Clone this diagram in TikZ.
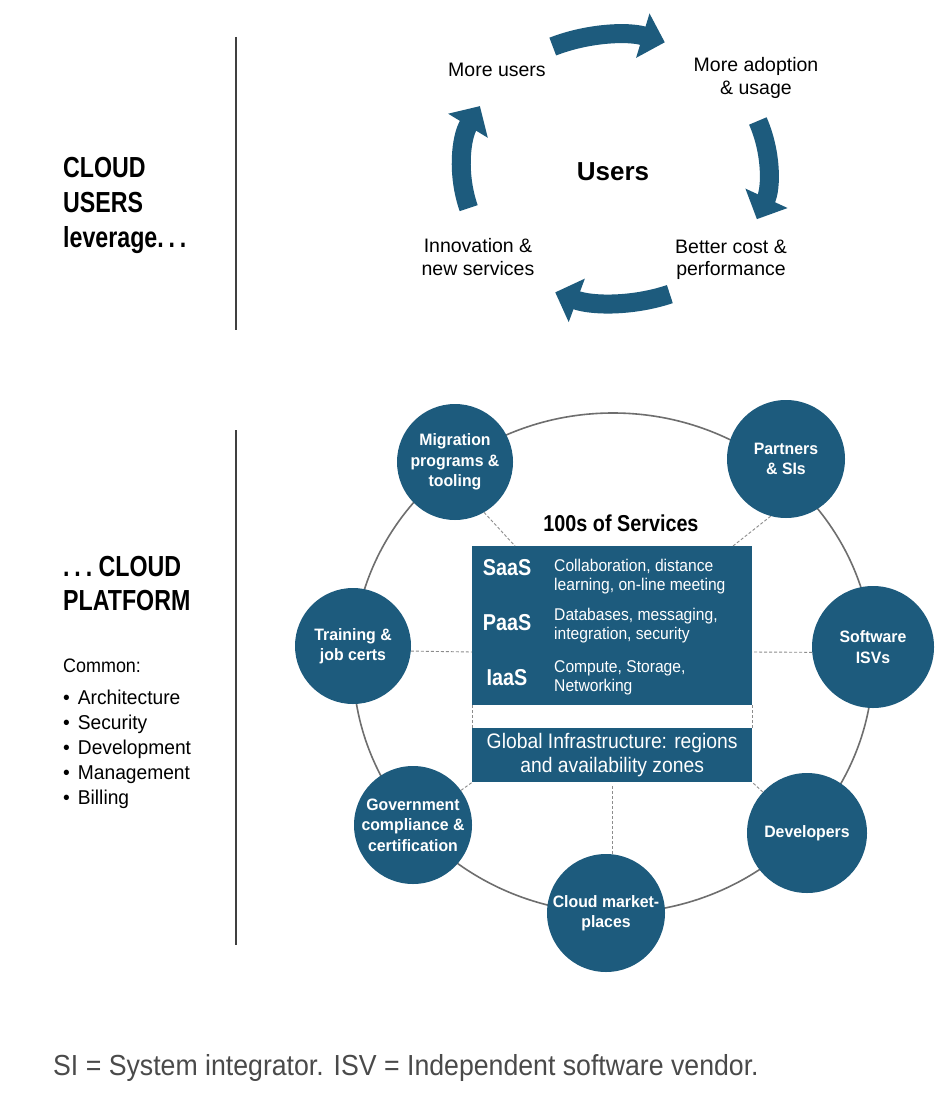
\documentclass[tikz,border=0pt]{standalone}
\usepackage{fontspec}
\setmainfont{Liberation Sans}
\newfontfamily\fcA{Liberation Sans}[FakeStretch=0.80]
\newfontfamily\fcB{Liberation Sans}[FakeStretch=0.86]
\newfontfamily\fcC{Liberation Sans}[FakeStretch=0.92]
\newfontfamily\fcD{Liberation Sans}[FakeStretch=0.96]
\usetikzlibrary{arrows.meta}
\definecolor{cblue}{HTML}{1D5B7D}
\definecolor{ringgray}{HTML}{6E6E6E}
\definecolor{dashgray}{HTML}{8C8C8C}
\definecolor{foot}{HTML}{4A4A4A}
\begin{document}
\begin{tikzpicture}[x=1pt,y=-1pt,
  sat/.style={circle, fill=cblue, inner sep=0pt, text=white, align=center, font=\fcD\bfseries\fontsize{16.5}{20.5}\selectfont},
  ringline/.style={draw=ringgray, line width=1.6pt},
  dl/.style={draw=dashgray, line width=0.9pt, dash pattern=on 3pt off 2pt},
  cyc/.style={draw=cblue, line width=19pt, -{Triangle[length=23pt,width=45pt]}},
  cyclbl/.style={align=center, inner sep=0pt, font=\fontsize{19.5}{22.5}\selectfont},
  head/.style={anchor=base west, inner sep=0pt, font=\fcA\bfseries\fontsize{29}{34}\selectfont},
  bul/.style={anchor=base west, inner sep=0pt, font=\fcD\fontsize{20}{25}\selectfont},
  tier/.style={text=white, inner sep=0pt, font=\fcB\bfseries\fontsize{23}{23}\selectfont},
  desc/.style={text=white, anchor=west, align=left, inner sep=0pt, font=\fcC\fontsize{17}{19}\selectfont},
  sepline/.style={draw=black!75, line width=1.3pt}
]
\useasboundingbox[fill=white] (0,0) rectangle (944,1097);

% ---------- left column ----------
\node[head] (h1) at (63,177) {CLOUD};
\node[head] (h2) at (63,212) {USERS};
\node[head] (h3) at (63,247) {leverage.\,.\,.};
\node[head] (h4) at (63,576) {.\,.\,.\ CLOUD};
\node[head] (h5) at (63,610) {PLATFORM};
\node[bul, font=\fcC\fontsize{19.5}{25}\selectfont] (c0) at (63,672) {Common:};
\node[bul] (c1) at (63,704) {\textbullet\hspace{8pt}Architecture};
\node[bul] (c2) at (63,729) {\textbullet\hspace{8pt}Security};
\node[bul] (c3) at (63,754) {\textbullet\hspace{8pt}Development};
\node[bul] (c4) at (63,779) {\textbullet\hspace{8pt}Management};
\node[bul] (c5) at (63,804) {\textbullet\hspace{8pt}Billing};

\draw[sepline] (236,37) -- (236,330);
\draw[sepline] (236,430) -- (236,945);

% ---------- users cycle ----------
\coordinate (cc) at (615,169);
\draw[cyc] (cc) ++(-114:153 and 134) arc[start angle=-114, end angle=-71, x radius=153, y radius=134];
\draw[cyc] (cc) ++(-21:153 and 134) arc[start angle=-21, end angle=22, x radius=153, y radius=134];
\draw[cyc] (cc) ++(69:153 and 134) arc[start angle=69, end angle=113, x radius=153, y radius=134];
\draw[cyc] (cc) ++(163:153 and 134) arc[start angle=163, end angle=208, x radius=153, y radius=134];

\node[font=\bfseries\fontsize{26}{26}\selectfont, inner sep=0pt] (users) at (613,172) {Users};
\node[cyclbl] (mu) at (497,70) {More users};
\node[cyclbl] (ad) at (756,78) {More adoption\\\& usage};
\node[cyclbl] (bc) at (731,260) {Better cost \&\\performance};
\node[cyclbl] (in) at (478,257) {Innovation \&\\new services};

% ---------- platform ----------
\draw[ringline] (613,663) ellipse[x radius=260, y radius=250];

\node[fill=cblue, minimum width=280pt, minimum height=159pt, anchor=north west, inner sep=0pt] (box) at (472,546) {};
\node[fill=cblue, minimum width=280pt, minimum height=54pt, anchor=north west, inner sep=0pt, text=white, align=center,
      font=\fcC\fontsize{21}{24}\selectfont] (gi) at (472,728) {Global Infrastructure: regions\\and availability zones};

\node[sat, minimum size=116pt] (mig) at (455,462) {Migration\\programs \&\\tooling};
\node[sat, minimum size=118pt] (par) at (786,459) {Partners\\\& SIs};
\node[sat, minimum size=116pt] (trn) at (353,646) {Training \&\\job certs};
\node[sat, minimum size=122pt] (isv) at (873,647) {Software\\ISVs};
\node[sat, minimum size=118pt] (gov) at (413,825) {Government\\compliance \&\\certification};
\node[sat, minimum size=120pt] (dev) at (807,833) {Developers};
\node[sat, minimum size=118pt] (mkt) at (606,913) {Cloud market-\\places};

\coordinate (bxm) at (515,546);
\coordinate (bxp) at (733,546);
\coordinate (bxl) at (472,652);
\coordinate (bxr) at (752,652);
\draw[dl] (mig.-60) -- (bxm);
\draw[dl] (par.-105) -- (bxp);
\draw[dl] (trn.-5) -- (bxl);
\draw[dl] (isv.185) -- (bxr);
\draw[dl] (gov) -- (gi.south west);
\draw[dl] (dev) -- (gi.south east);
\draw[dl] ([yshift=-4pt]gi.south) -- (gi.south |- mkt.north);
\draw[dl] (box.south west) -- (gi.north west);
\draw[dl] (box.south east) -- (gi.north east);

\node[font=\fcB\bfseries\fontsize{23}{23}\selectfont, inner sep=0pt] (svc) at (621,523) {100s of Services};

\node[tier] (saas) at (507,568) {SaaS};
\node[tier] (paas) at (507,623) {PaaS};
\node[tier] (iaas) at (507,678) {IaaS};
\node[desc] (saasd) at (554,577) {Collaboration, distance\\learning, on-line meeting};
\node[desc] (paasd) at (554,626) {Databases, messaging,\\integration, security};
\node[desc] (iaasd) at (554,678) {Compute, Storage,\\Networking};

% ---------- footer ----------
\node[anchor=base west, inner sep=0pt, text=foot, font=\fcC\fontsize{29}{29}\selectfont] (note) at (53,1075)
  {SI = System integrator. ISV = Independent software vendor.};
\end{tikzpicture}
\end{document}
